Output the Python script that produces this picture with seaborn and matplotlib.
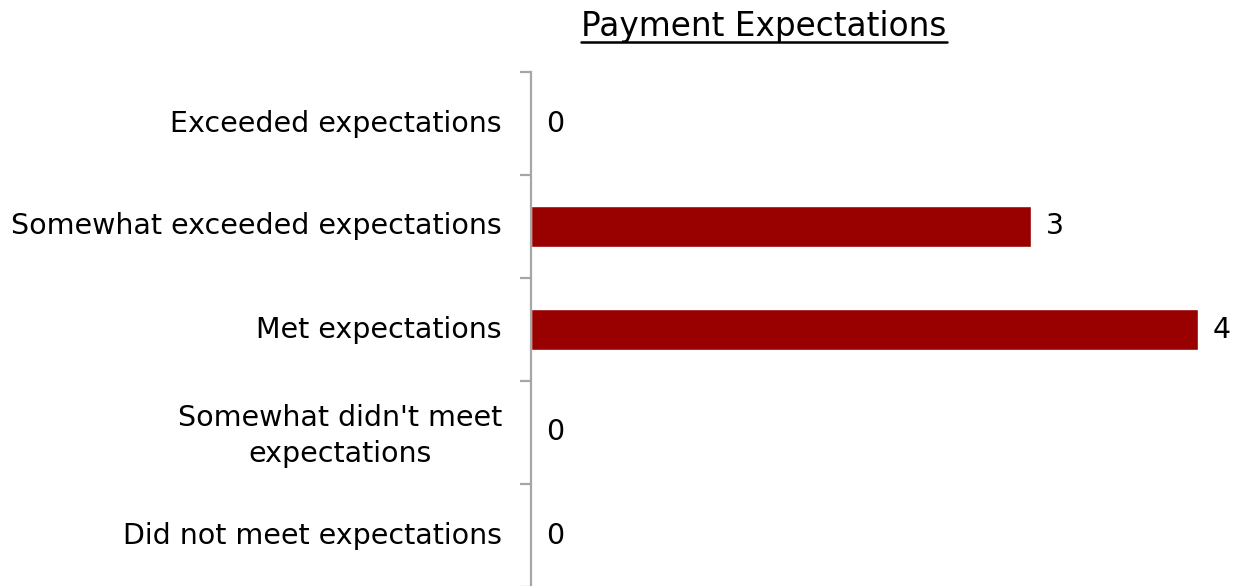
import matplotlib
matplotlib.use("Agg")
import matplotlib.pyplot as plt
from matplotlib.lines import Line2D
from matplotlib.transforms import ScaledTranslation
import seaborn as sns
import pandas as pd
import numpy as np

categories = [
    "Exceeded expectations",
    "Somewhat exceeded expectations",
    "Met expectations",
    "Somewhat didn't meet\nexpectations",
    "Did not meet expectations",
]
counts = [0, 3, 4, 0, 0]
title = "Payment Expectations"

sns.set_theme(style="white")
plt.rcParams["font.family"] = ["DejaVu Sans"]

df = pd.DataFrame({"category": categories, "count": counts})

fig = plt.figure(figsize=(12.34, 5.86), dpi=100)
ax = fig.add_axes([531 / 1234, -1 / 586, 700 / 1234, 515 / 586])

sns.barplot(data=df, x="count", y="category", order=categories,
            color="#990000", saturation=1, width=0.39, ax=ax)

ax.set_xlim(0, 4.2)
ax.set_xlabel("")
ax.set_ylabel("")
ax.set_xticks([])

for s in ["top", "right", "bottom"]:
    ax.spines[s].set_visible(False)
ax.spines["left"].set_color("#a6a6a6")
ax.spines["left"].set_linewidth(1.6)

fs = 20.5
ax.tick_params(axis="y", which="major", length=0, pad=21, labelsize=fs,
               labelcolor="black")
lift = ScaledTranslation(0, 3 / 100, fig.dpi_scale_trans)
for lab in ax.get_yticklabels():
    lab.set_multialignment("center")
    lab.set_linespacing(1.35)
    lab.set_transform(lab.get_transform() + lift)
ax.set_yticks(np.arange(-0.5, len(categories) + 0.5, 1), minor=True)
ax.tick_params(axis="y", which="minor", length=8, width=1.6, color="#a6a6a6",
               left=True, direction="out")

for i, v in enumerate(counts):
    ax.annotate(str(v), xy=(v, i), xytext=(11, 0), textcoords="offset points",
                ha="left", va="center", fontsize=fs, color="black",
                annotation_clip=False)

t = fig.text(764 / 1234, 1 - 36 / 586, title, ha="center", va="baseline",
             fontsize=23.6, color="black")
fig.canvas.draw()
bb = t.get_window_extent().transformed(fig.transFigure.inverted())
uy = 1 - 42 / 586
fig.add_artist(Line2D([bb.x0, bb.x1], [uy, uy], transform=fig.transFigure,
                      color="black", linewidth=1.8))

fig.savefig("out.png", dpi=100)
